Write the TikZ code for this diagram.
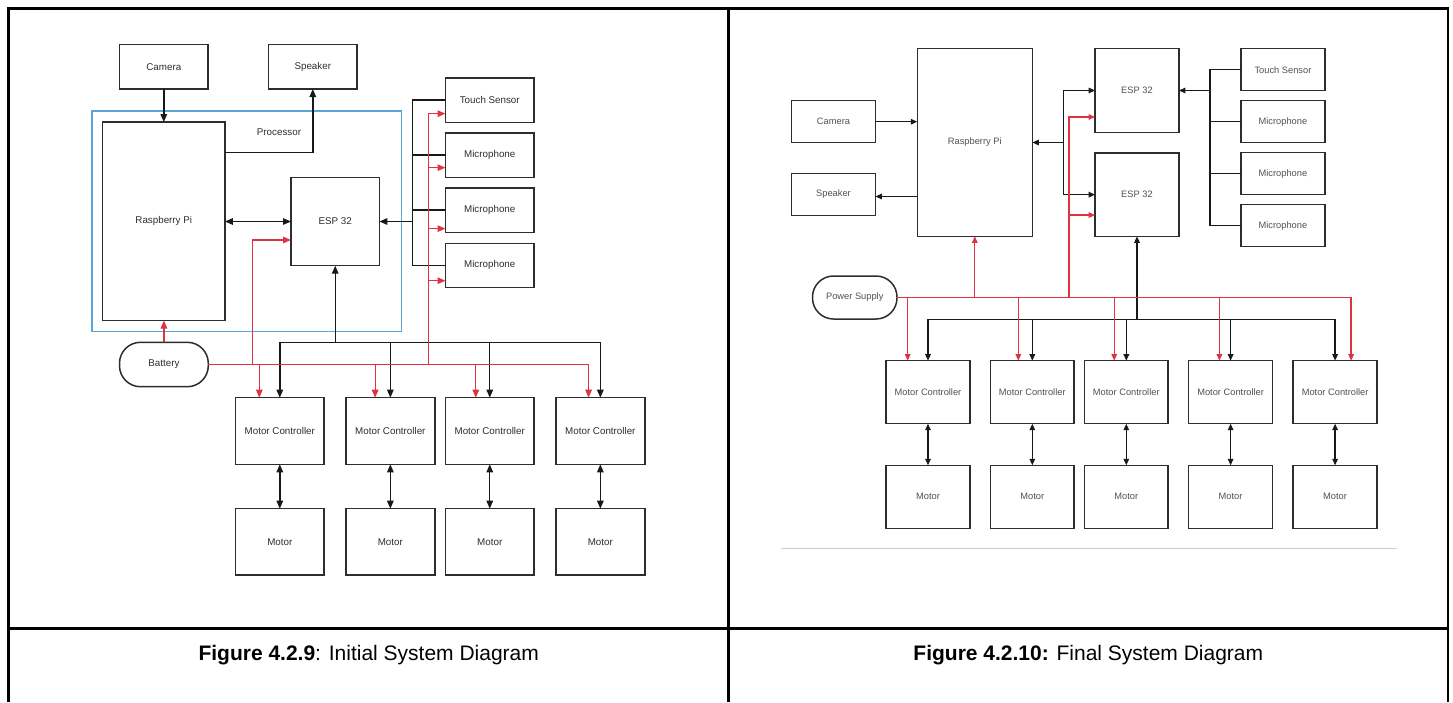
\documentclass[tikz,border=0pt]{standalone}
\usepackage{fontspec}
\setmainfont{Liberation Sans}
\usetikzlibrary{arrows.meta,calc}
\definecolor{redc}{RGB}{222,52,66}
\definecolor{bluec}{RGB}{90,165,215}
\definecolor{boxc}{RGB}{45,45,45}
\definecolor{txtc}{RGB}{45,45,45}
\definecolor{txtcR}{RGB}{80,80,80}
\definecolor{grayln}{RGB}{205,205,205}
\newcommand{\mkbox}[7]{\node[#1, minimum width={#5-#3}, minimum height={#6-#4}] (#2) at ({(#3+#5)/2},{(#4+#6)/2}) {#7};}
\tikzset{
  blockbox/.style={draw=boxc, line width=1.5pt, inner sep=0pt, outer sep=0pt, text=txtc, align=center, font=\fontsize{9.8}{11}\selectfont},
  blockboxR/.style={blockbox, text=txtcR, font=\fontsize{9.3}{11}\selectfont},
  stad/.style={blockbox, rounded corners=21pt},
  stadR/.style={blockboxR, rounded corners=21pt},
  procbox/.style={draw=bluec, line width=1.5pt, inner sep=0pt, outer sep=0pt},
  conn/.style={draw=black!90, line width=1.4pt},
  mytip/.tip={Triangle[length=8pt,width=6.5pt]},
  mytipR/.tip={Triangle[length=6.5pt,width=5.5pt]},
  arr/.style={conn, -mytip},
  darr/.style={conn, mytip-mytip},
  arrR/.style={conn, -mytipR},
  darrR/.style={conn, mytipR-mytipR},
  rline/.style={draw=redc, line width=1.3pt},
  rarr/.style={rline, -mytip},
  rarrR/.style={rline, -mytipR},
  tframe/.style={draw=black, line width=2.8pt},
  captxt/.style={font=\fontsize{21}{24}\selectfont, text=black, inner sep=0pt},
  lbltxt/.style={font=\fontsize{9.8}{11}\selectfont, text=txtc, inner sep=0pt}
}
\begin{document}
\begin{tikzpicture}[x=1pt,y=-1pt]
\useasboundingbox (0,0) rectangle (1453,702);
% table frame
\draw[tframe, line join=miter] (8.7,702) -- (8.7,8.7) -- (1448,8.7) -- (1448,702);
\draw[tframe] (728.7,8.7) -- (728.7,702);
\draw[tframe] (8.7,628.5) -- (1448,628.5);
\node[captxt] (cap1) at (368.7,655) {\textbf{Figure 4.2.9}: Initial System Diagram};
\node[captxt] (cap2) at (1088.3,655) {\textbf{Figure 4.2.10:} Final System Diagram};

% ================= LEFT PANEL =================
\mkbox{procbox}{proc}{92}{111}{401.3}{331.7}{}
\node[lbltxt] (proclbl) at (279,132) {Processor};
\mkbox{blockbox}{cam1}{119.6}{44.5}{208}{89}{Camera}
\mkbox{blockbox}{spk1}{268.6}{44.5}{357}{89}{Speaker}
\mkbox{blockbox}{rpi1}{102.6}{122}{224.9}{320.5}{Raspberry Pi}
\mkbox{blockbox}{esp1}{291}{177.3}{379.4}{265.7}{ESP 32}
\mkbox{blockbox}{ts1}{445.5}{78}{534}{122.3}{Touch Sensor}
\mkbox{blockbox}{mic1a}{445.5}{133}{534}{177.3}{Microphone}
\mkbox{blockbox}{mic1b}{445.5}{188}{534}{232.3}{Microphone}
\mkbox{blockbox}{mic1c}{445.5}{243.3}{534}{287.3}{Microphone}
\mkbox{stad}{bat1}{119.5}{342.3}{208.3}{386.7}{Battery}
\mkbox{blockbox}{mc1a}{235.6}{397.7}{324}{464.3}{Motor Controller}
\mkbox{blockbox}{mc1b}{345.9}{397.7}{434.8}{464.3}{Motor Controller}
\mkbox{blockbox}{mc1c}{445.5}{397.7}{534}{464.3}{Motor Controller}
\mkbox{blockbox}{mc1d}{555.9}{397.7}{644.8}{464.3}{Motor Controller}
\mkbox{blockbox}{mo1a}{235.6}{508.7}{324}{575}{Motor}
\mkbox{blockbox}{mo1b}{345.9}{508.7}{434.8}{575}{Motor}
\mkbox{blockbox}{mo1c}{445.5}{508.7}{534}{575}{Motor}
\mkbox{blockbox}{mo1d}{555.9}{508.7}{644.8}{575}{Motor}

\coordinate (sb1) at (412.5,221.5);
\coordinate (bj1) at (335.2,342.7);
\coordinate (rj1) at (252.3,364.3);
\coordinate (rj2) at (428.3,364.3);

% black connectors
\draw[arr] (cam1.south) -- (cam1.south |- rpi1.north);
\draw[arr] ($(rpi1.north east)+(0,30.7)$) -| (spk1.south);
\draw[darr] (rpi1.east |- esp1.west) -- (esp1.west);
\draw[conn] (ts1.west) -| (sb1 |- mic1c.west) -- (mic1c.west);
\draw[conn] (mic1a.west) -- (sb1 |- mic1a.west);
\draw[conn] (mic1b.west) -- (sb1 |- mic1b.west);
\draw[arr] (sb1) -- (esp1.east);
\draw[arr] (bj1) -- (esp1.south);
\draw[arr] (bj1) -| (mc1a.north);
\draw[arr] (bj1) -| (mc1d.north);
\draw[arr] (mc1b.north |- bj1) -- (mc1b.north);
\draw[arr] (mc1c.north |- bj1) -- (mc1c.north);
\draw[darr] (mc1a) -- (mo1a);
\draw[darr] (mc1b) -- (mo1b);
\draw[darr] (mc1c) -- (mo1c);
\draw[darr] (mc1d) -- (mo1d);

% red connectors
\draw[rarr] (bat1.north) -- (bat1.north |- rpi1.south);
\draw[rarr] (bat1.east) -| ($(mc1d.north)+(-11.8,0)$);
\draw[rarr] ($(mc1a.north)+(-20.5,-33.4)$) -- ($(mc1a.north)+(-20.5,0)$);
\draw[rarr] ($(mc1b.north)+(-15.2,-33.4)$) -- ($(mc1b.north)+(-15.2,0)$);
\draw[rarr] ($(mc1c.north)+(-14,-33.4)$) -- ($(mc1c.north)+(-14,0)$);
\draw[rarr] (rj1) |- ($(esp1.west)+(0,18.5)$);
\draw[rarr] (rj2) |- ($(ts1.west)+(0,13.5)$);
\draw[rarr] ($(mic1a.west)+(-17.2,12.5)$) -- ($(mic1a.west)+(0,12.5)$);
\draw[rarr] ($(mic1b.west)+(-17.2,18.5)$) -- ($(mic1b.west)+(0,18.5)$);
\draw[rarr] ($(mic1c.west)+(-17.2,15.4)$) -- ($(mic1c.west)+(0,15.4)$);

% ================= RIGHT PANEL =================
\mkbox{blockboxR}{cam2}{791.6}{100.7}{875.4}{142.7}{Camera}
\mkbox{blockboxR}{spk2}{791.6}{173.3}{875.4}{215.7}{Speaker}
\mkbox{blockboxR}{rpi2}{917.3}{48.7}{1032.3}{236.3}{Raspberry Pi}
\mkbox{blockboxR}{espA}{1095.1}{48.7}{1178.9}{132.3}{ESP 32}
\mkbox{blockboxR}{espB}{1095.1}{153}{1178.9}{236.3}{ESP 32}
\mkbox{blockboxR}{ts2}{1240.8}{48.7}{1325.1}{90.7}{Touch Sensor}
\mkbox{blockboxR}{mic2a}{1240.8}{100.7}{1325.1}{142.7}{Microphone}
\mkbox{blockboxR}{mic2b}{1240.8}{152.7}{1325.1}{194.7}{Microphone}
\mkbox{blockboxR}{mic2c}{1240.8}{204.7}{1325.1}{246.7}{Microphone}
\mkbox{stadR}{ps}{812.5}{276}{897}{319}{Power Supply}
\mkbox{blockboxR}{mc2a}{886.1}{360.7}{969.9}{423.7}{Motor Controller}
\mkbox{blockboxR}{mc2b}{990.4}{360.7}{1074.2}{423.7}{Motor Controller}
\mkbox{blockboxR}{mc2c}{1084.4}{360.7}{1168.2}{423.7}{Motor Controller}
\mkbox{blockboxR}{mc2d}{1188.7}{360.7}{1272.5}{423.7}{Motor Controller}
\mkbox{blockboxR}{mc2e}{1293}{360.7}{1377.2}{423.7}{Motor Controller}
\mkbox{blockboxR}{mo2a}{886.1}{465.3}{969.9}{528.3}{Motor}
\mkbox{blockboxR}{mo2b}{990.4}{465.3}{1074.2}{528.3}{Motor}
\mkbox{blockboxR}{mo2c}{1084.4}{465.3}{1168.2}{528.3}{Motor}
\mkbox{blockboxR}{mo2d}{1188.7}{465.3}{1272.5}{528.3}{Motor}
\mkbox{blockboxR}{mo2e}{1293}{465.3}{1377.2}{528.3}{Motor}

\coordinate (ej) at (1063.5,142.5);
\coordinate (sb2) at (1210.1,90.5);
\coordinate (bj2) at (1137,319.3);
\coordinate (rj3) at (1069,297.5);
\coordinate (gl1) at (781.3,548.3);
\coordinate (gl2) at (1397.3,548.3);

% black connectors
\draw[arrR] (cam2.east) -- (cam2.east -| rpi2.west);
\draw[arrR] ($(spk2.east -| rpi2.west)+(0,2)$) -- ($(spk2.east)+(0,2)$);
\draw[arrR] (ej) -- (ej -| rpi2.east);
\draw[arrR] (ej) |- (espA.west);
\draw[arrR] (ej) |- (espB.west);
\draw[conn] (ts2.west) -| (sb2 |- mic2c.west) -- (mic2c.west);
\draw[conn] (mic2a.west) -- (sb2 |- mic2a.west);
\draw[conn] (mic2b.west) -- (sb2 |- mic2b.west);
\draw[arrR] (sb2) -- (espA.east);
\draw[arrR] (bj2) -- (espB.south);
\draw[arrR] (bj2) -| (mc2a.north);
\draw[arrR] (bj2) -| (mc2e.north);
\draw[arrR] (mc2b.north |- bj2) -- (mc2b.north);
\draw[arrR] (mc2c.north |- bj2) -- (mc2c.north);
\draw[arrR] (mc2d.north |- bj2) -- (mc2d.north);
\draw[darrR] (mc2a) -- (mo2a);
\draw[darrR] (mc2b) -- (mo2b);
\draw[darrR] (mc2c) -- (mo2c);
\draw[darrR] (mc2d) -- (mo2d);
\draw[darrR] (mc2e) -- (mo2e);

% red connectors
\draw[rarrR] (rpi2.south |- ps.east) -- (rpi2.south);
\draw[rarrR] (ps.east) -| ($(mc2e.north)+(16,0)$);
\draw[rarrR] ($(mc2a.north)+(-20.3,-63.2)$) -- ($(mc2a.north)+(-20.3,0)$);
\draw[rarrR] ($(mc2b.north)+(-14,-63.2)$) -- ($(mc2b.north)+(-14,0)$);
\draw[rarrR] ($(mc2c.north)+(-12.1,-63.2)$) -- ($(mc2c.north)+(-12.1,0)$);
\draw[rarrR] ($(mc2d.north)+(-11.2,-63.2)$) -- ($(mc2d.north)+(-11.2,0)$);
\draw[rarrR] (rj3) |- ($(espA.west)+(0,26.5)$);
\draw[rarrR] ($(espB.west)+(-26.1,20.4)$) -- ($(espB.west)+(0,20.4)$);

% light gray rule
\draw[draw=grayln, line width=1pt] (gl1) -- (gl2);
\end{tikzpicture}
\end{document}
